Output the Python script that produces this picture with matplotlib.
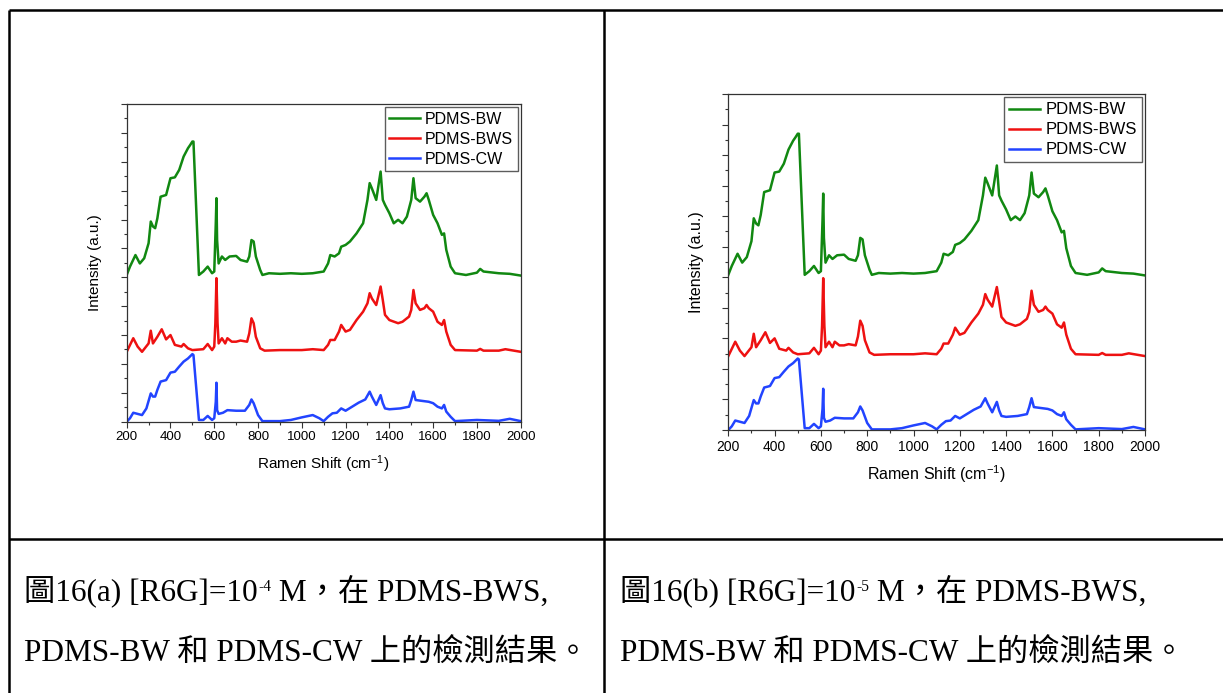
import matplotlib
matplotlib.use('Agg')
import matplotlib.pyplot as plt
from matplotlib.ticker import MultipleLocator

plt.rcParams['font.family'] = ['Liberation Sans', 'DejaVu Sans']
plt.rcParams['mathtext.fontset'] = 'custom'
plt.rcParams['mathtext.rm'] = 'Liberation Sans'
plt.rcParams['mathtext.default'] = 'regular'

# Raman spectra (intensity in arbitrary units, offset stacked)
bw_x = [200, 215, 240, 260, 280, 300, 310, 320, 330, 340, 355, 380, 400, 420, 440, 460, 480, 490, 500, 505,
        530, 550, 570, 590, 600, 607, 610, 613, 620, 635, 650, 670, 700, 720, 750, 760, 770, 780, 790, 810,
        820, 850, 900, 950, 1000, 1050, 1100, 1120, 1130, 1150, 1170, 1180, 1200, 1220, 1250, 1280, 1300,
        1310, 1320, 1340, 1360, 1370, 1380, 1400, 1420, 1440, 1460, 1480, 1500, 1510, 1520, 1540, 1560,
        1570, 1580, 1600, 1620, 1640, 1650, 1660, 1680, 1700, 1750, 1800, 1815, 1830, 1900, 1950, 2000]
bw_y = [5.08, 5.37, 5.77, 5.48, 5.66, 6.18, 6.93, 6.76, 6.70, 7.04, 7.79, 7.85, 8.43, 8.46, 8.72, 9.18, 9.47,
        9.58, 9.70, 9.70, 5.08, 5.20, 5.37, 5.14, 5.20, 6.87, 7.74, 6.29, 5.48, 5.72, 5.60, 5.72, 5.74, 5.60,
        5.54, 5.72, 6.29, 6.24, 5.72, 5.25, 5.08, 5.14, 5.12, 5.14, 5.12, 5.14, 5.20, 5.48, 5.77, 5.72, 5.83,
        6.06, 6.12, 6.24, 6.52, 6.87, 7.68, 8.26, 8.08, 7.68, 8.66, 7.68, 7.51, 7.22, 6.87, 6.99, 6.87, 7.10,
        7.68, 8.43, 7.74, 7.62, 7.79, 7.91, 7.68, 7.16, 6.87, 6.47, 6.52, 5.95, 5.37, 5.14, 5.08, 5.16, 5.29,
        5.20, 5.14, 5.12, 5.06]

bws_x = [200, 230, 250, 270, 300, 310, 320, 340, 360, 380, 400, 420, 450, 460, 480, 500, 550, 570, 590, 600,
         605, 610, 615, 620, 635, 650, 660, 680, 700, 720, 750, 760, 770, 780, 790, 810, 830, 900, 1000,
         1050, 1100, 1120, 1130, 1150, 1170, 1180, 1200, 1220, 1250, 1280, 1300, 1310, 1320, 1340, 1360,
         1370, 1380, 1400, 1440, 1460, 1490, 1500, 1510, 1520, 1540, 1560, 1570, 1580, 1600, 1620, 1640,
         1650, 1660, 1680, 1700, 1800, 1815, 1830, 1900, 1930, 2000]
bws_y = [2.42, 2.89, 2.60, 2.42, 2.71, 3.15, 2.71, 2.94, 3.20, 2.85, 3.00, 2.66, 2.60, 2.69, 2.54, 2.48, 2.51,
         2.69, 2.48, 2.60, 3.41, 4.97, 3.41, 2.71, 2.89, 2.71, 2.89, 2.77, 2.77, 2.81, 2.77, 3.06, 3.58, 3.41,
         2.94, 2.54, 2.46, 2.48, 2.48, 2.51, 2.48, 2.66, 2.83, 2.83, 3.12, 3.35, 3.12, 3.18, 3.52, 3.81, 4.10,
         4.45, 4.27, 4.04, 4.68, 4.21, 3.70, 3.52, 3.41, 3.46, 3.64, 3.87, 4.56, 4.10, 3.87, 3.93, 4.04, 3.93,
         3.81, 3.46, 3.35, 3.52, 3.12, 2.66, 2.48, 2.46, 2.52, 2.46, 2.46, 2.51, 2.42]

cw_x = [200, 215, 230, 250, 270, 290, 310, 320, 330, 340, 355, 380, 400, 420, 440, 460, 480, 500, 505, 530,
        550, 570, 590, 600, 607, 610, 613, 620, 640, 660, 700, 740, 760, 770, 780, 800, 820, 900, 950, 1000,
        1050, 1080, 1100, 1120, 1140, 1160, 1180, 1200, 1230, 1260, 1290, 1310, 1320, 1340, 1360, 1370,
        1380, 1400, 1450, 1490, 1500, 1510, 1520, 1540, 1580, 1600, 1620, 1640, 1650, 1660, 1680, 1700,
        1800, 1900, 1950, 2000]
cw_y = [0.00, 0.12, 0.31, 0.27, 0.23, 0.46, 0.98, 0.87, 0.87, 1.10, 1.39, 1.44, 1.70, 1.73, 1.91, 2.08, 2.19,
        2.34, 2.31, 0.06, 0.06, 0.20, 0.06, 0.12, 0.69, 1.35, 0.40, 0.27, 0.31, 0.40, 0.38, 0.38, 0.58, 0.77,
        0.64, 0.23, 0.02, 0.02, 0.06, 0.15, 0.23, 0.12, 0.02, 0.17, 0.29, 0.31, 0.46, 0.38, 0.52, 0.66, 0.77,
        1.04, 0.87, 0.58, 0.92, 0.64, 0.46, 0.43, 0.46, 0.52, 0.75, 1.04, 0.75, 0.73, 0.69, 0.64, 0.52, 0.46,
        0.58, 0.35, 0.17, 0.02, 0.06, 0.03, 0.10, 0.02]

series = [
    ('PDMS-BW', bw_x, bw_y, '#118811'),
    ('PDMS-BWS', bws_x, bws_y, '#ee1111'),
    ('PDMS-CW', cw_x, cw_y, '#2244ff'),
]

captions = [
    ('圖16(a) [R6G]=10', '-4', ' M，在 PDMS-BWS,', 'PDMS-BW 和 PDMS-CW 上的檢測結果。'),
    ('圖16(b) [R6G]=10', '-5', ' M，在 PDMS-BWS,', 'PDMS-BW 和 PDMS-CW 上的檢測結果。'),
]

W, H = 1223, 693
fig = plt.figure(figsize=(W / 100, H / 100), dpi=100)

# table grid drawn in pixel units on a full-figure axes
bg = fig.add_axes([0, 0, 1, 1], zorder=-1)
bg.set_xlim(0, W)
bg.set_ylim(H, 0)
bg.axis('off')
lw_tab = 1.8
bg.plot([9, W], [10, 10], color='black', lw=lw_tab, solid_capstyle='butt')
bg.plot([9, 9], [10, H], color='black', lw=lw_tab, solid_capstyle='butt')
bg.plot([604, 604], [10, H], color='black', lw=lw_tab, solid_capstyle='butt')
bg.plot([9, W], [539, 539], color='black', lw=lw_tab, solid_capstyle='butt')


def draw_panel(rect, fs_tick, fs_label, fs_leg):
    ax = fig.add_axes(rect)
    for name, xs, ys, c in series:
        ax.plot(xs, ys, color=c, lw=1.8, label=name)
    ax.set_xlim(200, 2000)
    ax.set_ylim(0, 11)
    ax.xaxis.set_major_locator(MultipleLocator(200))
    ax.xaxis.set_minor_locator(MultipleLocator(100))
    ax.yaxis.set_major_locator(MultipleLocator(1))
    ax.yaxis.set_minor_locator(MultipleLocator(0.5))
    ax.tick_params(which='both', direction='out', top=False, right=False, labelleft=False,
                   width=0.8, color='#333333')
    ax.tick_params(which='major', length=4.5)
    ax.tick_params(which='minor', length=2.5)
    ax.tick_params(axis='x', labelsize=fs_tick, pad=2.5)
    for s in ax.spines.values():
        s.set_linewidth(0.9)
        s.set_color('#333333')
    ax.set_xlabel('Ramen Shift (cm$^{-1}$)', fontsize=fs_label, labelpad=7)
    ax.set_ylabel('Intensity (a.u.)', fontsize=fs_label, labelpad=13)
    leg = ax.legend(loc='upper right', fontsize=fs_leg, frameon=True, fancybox=False,
                    edgecolor='#333333', handlelength=1.9, handletextpad=0.3, borderpad=0.3,
                    labelspacing=0.3, borderaxespad=0.2)
    leg.get_frame().set_linewidth(1.0)
    return ax


draw_panel([126.7 / W, 1 - 421.7 / H, 394 / W, 317.7 / H], 9.5, 11, 11.5)
draw_panel([728.3 / W, 1 - 430 / H, 416.7 / W, 336 / H], 10, 11.5, 12)

cap_font = ['Liberation Serif', 'Noto Sans CJK TC']
CAP = 22.5
for (head, sup, tail, line2), x0 in zip(captions, [24, 620]):
    t1 = bg.text(x0, 601, head, fontsize=CAP, family=cap_font, va='baseline', ha='left')
    t2 = bg.annotate(sup, xy=(1, 1), xycoords=t1, xytext=(0.5, -2), textcoords='offset points',
                     fontsize=CAP * 0.5, family=cap_font, va='top', ha='left')
    bg.annotate(tail, xy=(1, 0), xycoords=(t2, t1), fontsize=CAP, family=cap_font,
                va='bottom', ha='left')
    bg.text(x0, 662, line2, fontsize=CAP, family=cap_font, va='baseline', ha='left')

fig.savefig('out.png', dpi=100)
